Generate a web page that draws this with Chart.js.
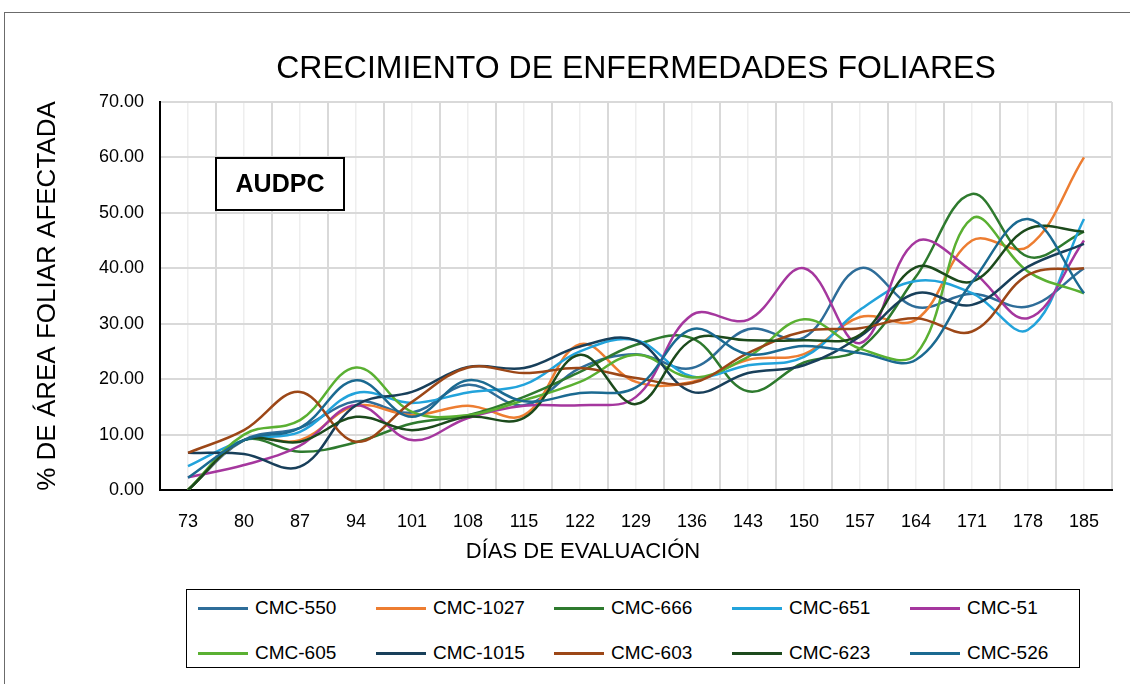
<!DOCTYPE html>
<html><head><meta charset="utf-8">
<script src="https://cdn.jsdelivr.net/npm/chart.js@4.4.1/dist/chart.umd.min.js"></script>
<style>
html,body{margin:0;padding:0;background:#fff;width:1130px;height:684px;overflow:hidden;font-family:"Liberation Sans",Arial,sans-serif;}
#frame{position:absolute;left:4px;top:12px;width:1200px;height:800px;border-left:1.5px solid #6b6b6b;border-top:1.5px solid #6b6b6b;}
#wrap{position:absolute;left:0;top:0;width:1130px;height:580px;}
#legend{position:absolute;left:186px;top:589px;width:894px;height:79px;border:1.5px solid #000;box-sizing:border-box;}
.item{position:absolute;display:flex;align-items:center;font-size:19px;color:#000;white-space:nowrap;height:24px;}
.sw{width:50px;height:3px;margin-right:7px;}
</style></head>
<body>
<div id="frame"></div>
<div id="wrap"><canvas id="c" width="1130" height="580"></canvas></div>
<div id="legend"></div>
<script>
const days = ['73','80','87','94','101','108','115','122','129','136','143','150','157','164','171','178','185'];
const seriesNames = ['CMC-550','CMC-1027','CMC-666','CMC-651','CMC-51','CMC-605','CMC-1015','CMC-603','CMC-623','CMC-526'];
const cmc550  = [0, 9, 11.2, 16, 14, 19, 15.3, 22, 24.5, 22, 29, 27.5, 40, 33, 35.4, 33.1, 40];
const cmc1027 = [0, 9, 9, 15.2, 13.5, 15.2, 13.5, 26.3, 19.5, 19.5, 23.5, 24.5, 31.2, 30.7, 45, 43.9, 60];
const cmc666  = [0, 9, 6.9, 8.6, 12, 13.5, 16.8, 21.3, 26.2, 27.4, 17.8, 23, 25.5, 38.5, 53.4, 42.1, 46.6];
const cmc651  = [4.3, 9, 10.5, 17.5, 15.7, 17.6, 19, 25, 27, 20.5, 22.5, 24, 32.5, 37.7, 35.5, 28.9, 48.9];
const cmc51   = [2.3, 4.5, 8, 15.3, 9, 13, 15.2, 15.3, 16.8, 31.6, 30.7, 40, 26.5, 44.8, 39.5, 31, 45];
const cmc605  = [0, 10, 12.6, 22.1, 14.1, 13.5, 16.2, 19.5, 24.4, 20.3, 24, 30.8, 25.5, 24.5, 49, 39.4, 35.5];
const cmc1015 = [6.7, 6.5, 4.2, 15.3, 17.7, 22.2, 22, 25.9, 27, 17.7, 21.1, 22.5, 27.7, 35.5, 33.4, 40.3, 44.4];
const cmc603  = [6.7, 10.8, 17.7, 8.7, 15.9, 22.1, 21.1, 22, 20.2, 19.3, 24.7, 28.6, 29.2, 31, 28.6, 38.8, 40];
const cmc623  = [0, 9, 8.7, 13.2, 10.8, 13.2, 13, 24.4, 15.5, 27.1, 27, 27, 28, 40.2, 37.6, 47.1, 46.6];
const cmc526  = [2.2, 9, 11.2, 19.8, 13.2, 19.8, 16, 17.5, 18.5, 29, 24.5, 26, 24.7, 23.5, 37.5, 48.9, 35.5];
const seriesValues = [cmc550, cmc1027, cmc666, cmc651, cmc51, cmc605, cmc1015, cmc603, cmc623, cmc526];
const seriesColors = ['#2E6D99','#ED7D31','#2E7A2E','#22A3DB','#A5379E','#5AB032','#183F5A','#9C4717','#1C4A1C','#1B6A91'];
const yTicks = {min: 0, max: 70, step: 10};
const chartTitle = 'CRECIMIENTO DE ENFERMEDADES FOLIARES';
const yTitle = '% DE ÁREA FOLIAR AFECTADA';
const xTitle = 'DÍAS DE EVALUACIÓN';
const boxLabel = 'AUDPC';

const FONT = '"Liberation Sans", Arial, sans-serif';

const datasets = seriesNames.map((n, i) => ({
  label: n,
  data: seriesValues[i],
  borderColor: seriesColors[i],
  backgroundColor: seriesColors[i],
  borderWidth: 2.5,
  pointRadius: 0,
  tension: 0.38,
  fill: false,
  order: seriesNames.length - 1 - i
}));

const extras = {
  id: 'extras',
  afterDraw(chart) {
    const ctx = chart.ctx, a = chart.chartArea;
    ctx.save();
    ctx.fillStyle = '#000';
    ctx.textAlign = 'center';
    ctx.textBaseline = 'middle';
    // chart title, centred over the plot area
    ctx.font = '32px ' + FONT;
    ctx.fillText(chartTitle, (a.left + a.right) / 2, a.top - 33);
    // x axis title
    ctx.font = '22px ' + FONT;
    ctx.fillText(xTitle, (a.left + a.right) / 2 - 53, a.bottom + 62);
    // AUDPC box
    const bx = a.left + 56, by = a.top + 56, bw = 128, bh = 52;
    ctx.fillStyle = '#fff';
    ctx.fillRect(bx, by, bw, bh);
    ctx.strokeStyle = '#000';
    ctx.lineWidth = 2;
    ctx.strokeRect(bx, by, bw, bh);
    ctx.fillStyle = '#000';
    ctx.font = 'bold 25px ' + FONT;
    ctx.fillText(boxLabel, bx + bw / 2, by + bh / 2 + 1);
    ctx.restore();
  }
};

const chart = new Chart(document.getElementById('c'), {
  type: 'line',
  data: { labels: days, datasets },
  options: {
    responsive: false,
    animation: false,
    layout: { padding: { left: 0, right: 18, top: 102, bottom: 0 } },
    plugins: {
      legend: { display: false },
      tooltip: { enabled: false },
      title: { display: false }
    },
    scales: {
      x: {
        type: 'category',
        offset: true,
        grid: { offset: true, color: '#d9d9d9', lineWidth: 2, drawTicks: false },
        border: { display: true, color: '#000', width: 2 },
        ticks: { color: '#000', font: { family: FONT, size: 18 }, padding: 21, maxRotation: 0, autoSkip: false },
        afterFit(s) { s.height = 90; }
      },
      x2: {
        type: 'category',
        labels: days,
        offset: true,
        position: 'bottom',
        display: true,
        grid: { offset: false, color: '#eeeeee', lineWidth: 1.5, drawTicks: false },
        border: { display: false },
        ticks: { display: false },
        afterFit(s) { s.height = 0; }
      },
      y: {
        min: yTicks.min, max: yTicks.max,
        ticks: { stepSize: yTicks.step, color: '#000', font: { family: FONT, size: 18 }, padding: 16,
                 callback: v => Number(v).toFixed(2) },
        grid: { color: '#d9d9d9', lineWidth: 2, drawTicks: false },
        border: { display: true, color: '#000', width: 2 },
        title: { display: true, text: yTitle, color: '#000', font: { family: FONT, size: 26 }, padding: { top: 32, bottom: 0 } },
        afterFit(s) { s.width = 160; }
      }
    }
  },
  plugins: [extras]
});

// HTML legend built from chart datasets
const leg = document.getElementById('legend');
chart.data.datasets.forEach((ds, i) => {
  const row = Math.floor(i / 5), col = i % 5;
  const it = document.createElement('div');
  it.className = 'item';
  it.style.left = (11 + col * 178) + 'px';
  it.style.top = (6 + row * 45) + 'px';
  const sw = document.createElement('span');
  sw.className = 'sw';
  sw.style.background = ds.borderColor;
  const tx = document.createElement('span');
  tx.textContent = ds.label;
  it.appendChild(sw); it.appendChild(tx);
  leg.appendChild(it);
});
</script>
</body></html>
